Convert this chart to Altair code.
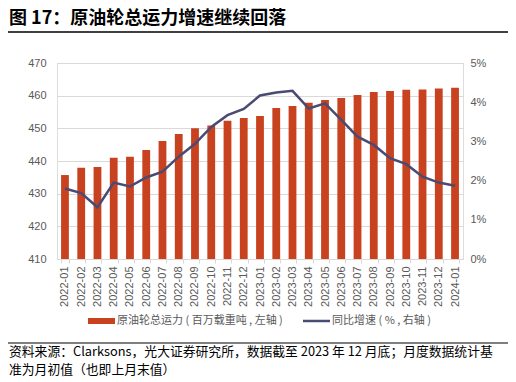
import altair as alt
import pandas as pd

months = ["2022-01", "2022-02", "2022-03", "2022-04", "2022-05", "2022-06", "2022-07",
          "2022-08", "2022-09", "2022-10", "2022-11", "2022-12", "2023-01", "2023-02",
          "2023-03", "2023-04", "2023-05", "2023-06", "2023-07", "2023-08", "2023-09",
          "2023-10", "2023-11", "2023-12", "2024-01"]
capacity = [435.7, 437.9, 438.2, 441.0, 441.3, 443.4, 446.1, 448.3, 450.0, 450.9,
            452.3, 453.2, 453.8, 456.2, 456.8, 457.8, 458.7, 459.3, 460.2, 461.1,
            461.4, 461.8, 461.9, 462.2, 462.4]
yoy = [1.80, 1.68, 1.32, 1.95, 1.85, 2.08, 2.23, 2.61, 2.94, 3.37, 3.67, 3.83, 4.17,
       4.25, 4.29, 3.84, 3.97, 3.55, 3.12, 2.91, 2.57, 2.42, 2.10, 1.95, 1.87]

bar_name = "原油轮总运力 ( 百万载重吨 , 左轴 )"
line_name = "同比增速 ( % , 右轴 )"
title_text = "图 17：原油轮总运力增速继续回落"
source1 = "资料来源：Clarksons，光大证券研究所，数据截至 2023 年 12 月底；月度数据统计基"
source2 = "准为月初值（也即上月末值）"

df = pd.DataFrame({"month": months, "cap": capacity, "yoy": [v / 100 for v in yoy]})

RED = "#C8421F"
NAVY = "#4A4A72"
GRAY = "#595959"
CJK = "Noto Sans CJK SC"
NUM = "Liberation Sans"

W, H = 406, 196

xenc = alt.X("month:N", sort=months, title=None,
             scale=alt.Scale(paddingInner=0.52, paddingOuter=0.25),
             axis=alt.Axis(labelAngle=270, labelFont=NUM, labelFontSize=11, labelColor=GRAY,
                           domainColor="#D9D9D9", tickColor="#D9D9D9", tickSize=4,
                           tickBand="extent", labelPadding=3))

base = alt.Chart(df)

bars = base.mark_bar(color=RED, clip=True).encode(
    x=xenc,
    y=alt.Y("cap:Q", title=None,
            scale=alt.Scale(domain=[410, 470], nice=False, zero=False),
            axis=alt.Axis(orient="left", values=[410, 420, 430, 440, 450, 460, 470],
                          labelFont=NUM, labelFontSize=11, labelColor=GRAY,
                          domain=False, ticks=False, labelPadding=11,
                          grid=True, gridColor="#D9D9D9", gridWidth=1)),
    y2=alt.datum(410),
)

line = base.mark_line(color=NAVY, strokeWidth=2.5).encode(
    x=alt.X("month:N", sort=months),
    y=alt.Y("yoy:Q", title=None,
            scale=alt.Scale(domain=[0, 0.05], nice=False),
            axis=alt.Axis(orient="right", values=[0, 0.01, 0.02, 0.03, 0.04, 0.05],
                          format=".0%", labelFont=NUM, labelFontSize=11, labelColor=GRAY,
                          domain=False, ticks=False, labelPadding=7, grid=False)),
)

one = pd.DataFrame({"t": [0]})

def text_layer(txt, x, y, size, color, weight="normal", baseline="middle"):
    return alt.Chart(pd.DataFrame({"t": [txt]})).mark_text(
        align="left", baseline=baseline, font=CJK, fontSize=size, color=color,
        fontWeight=weight).encode(x=alt.value(x), y=alt.value(y), text="t:N")

title = text_layer(title_text, -48, -44, 18, "#000000", weight="bold")
top_rule = alt.Chart(one).mark_rule(color="#000000", strokeWidth=1.5).encode(
    x=alt.value(-49), x2=alt.value(451), y=alt.value(-31))
bottom_rule = alt.Chart(one).mark_rule(color="#000000", strokeWidth=1.2).encode(
    x=alt.value(-49), x2=alt.value(451), y=alt.value(280))

leg_bar = alt.Chart(one).mark_rule(color=RED, strokeWidth=6).encode(
    x=alt.value(31), x2=alt.value(58), y=alt.value(258))
leg_bar_txt = text_layer(bar_name, 60, 258, 11, GRAY)
leg_line = alt.Chart(one).mark_rule(color=NAVY, strokeWidth=2.5).encode(
    x=alt.value(246), x2=alt.value(273), y=alt.value(258))
leg_line_txt = text_layer(line_name, 275, 258, 11, GRAY)

src1 = text_layer(source1, -48, 289, 12.8, "#000000")
src2 = text_layer(source2, -48, 306.5, 12.8, "#000000")

chart = alt.layer(
    bars, line, title, top_rule, bottom_rule, leg_bar, leg_bar_txt, leg_line,
    leg_line_txt, src1, src2
).resolve_scale(y="independent").properties(
    width=W, height=H,
    autosize=alt.AutoSizeParams(type="none"),
    padding={"left": 49, "top": 55, "right": 45, "bottom": 119},
).configure_view(stroke=None).configure(background="white")

chart.save("out.html", embed_options={"renderer": "svg", "actions": False})
